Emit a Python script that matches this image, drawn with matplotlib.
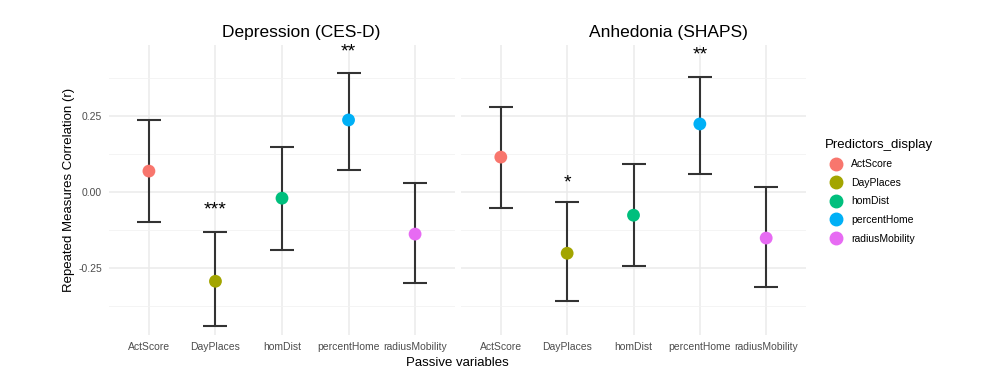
import matplotlib.pyplot as plt
from matplotlib.lines import Line2D
import numpy as np

plt.rcParams["font.family"] = ["Liberation Sans", "DejaVu Sans"]

predictors = ["ActScore", "DayPlaces", "homDist", "percentHome", "radiusMobility"]
colors = ["#F8766D", "#A3A500", "#00BF7D", "#00B0F6", "#E76BF3"]

panel_titles = ["Depression (CES-D)", "Anhedonia (SHAPS)"]

# correlation estimates and CI bounds, per panel
dep_r = [0.069, -0.293, -0.020, 0.237, -0.138]
dep_lo = [-0.099, -0.441, -0.191, 0.072, -0.299]
dep_hi = [0.237, -0.132, 0.148, 0.391, 0.030]
dep_stars = ["", "***", "", "**", ""]
dep_star_y = [None, -0.058, None, 0.462, None]

anh_r = [0.115, -0.201, -0.076, 0.224, -0.151]
anh_lo = [-0.053, -0.359, -0.243, 0.059, -0.313]
anh_hi = [0.280, -0.033, 0.092, 0.378, 0.016]
anh_stars = ["", "*", "", "**", ""]
anh_star_y = [None, 0.030, None, 0.452, None]

panels = [
    (dep_r, dep_lo, dep_hi, dep_stars, dep_star_y),
    (anh_r, anh_lo, anh_hi, anh_stars, anh_star_y),
]

fig = plt.figure(figsize=(10, 3.83), dpi=100)
ax_rects = [[0.109, 0.125, 0.346, 0.758], [0.461, 0.125, 0.345, 0.758]]
title_x = [0.301, 0.668]

x = np.arange(len(predictors))
for i, (r, lo, hi, stars, star_y) in enumerate(panels):
    ax = fig.add_axes(ax_rects[i])
    r = np.array(r)
    yerr = [r - np.array(lo), np.array(hi) - r]
    ax.errorbar(x, r, yerr=yerr, fmt="none", ecolor="#333333", elinewidth=1.5,
                capsize=8.5, capthick=1.5, zorder=2)
    ax.scatter(x, r, s=85, c=colors, zorder=3, edgecolors="none")
    for xi, s, sy in zip(x, stars, star_y):
        if s:
            ax.text(xi, sy, s, ha="center", va="center", fontsize=14, color="black")

    ax.set_xlim(-0.6, 4.6)
    ax.set_ylim(-0.47, 0.484)
    ax.set_xticks(x)
    ax.set_xticklabels(predictors, fontsize=7.5, color="#4D4D4D")
    ax.set_yticks([-0.25, 0, 0.25])
    ax.set_yticks([-0.375, -0.125, 0.125, 0.375], minor=True)
    if i == 0:
        ax.set_yticklabels(["-0.25", "0.00", "0.25"], fontsize=7.5, color="#4D4D4D")
        ax.set_ylabel("Repeated Measures Correlation (r)", fontsize=9.5, color="black")
        ax.yaxis.set_label_coords(-0.097, 0.5)
    else:
        ax.set_yticklabels([])
    ax.tick_params(axis="both", which="both", length=0, pad=5)
    ax.grid(True, which="major", color="#EBEBEB", linewidth=1.1)
    ax.grid(True, which="minor", axis="y", color="#F2F2F2", linewidth=0.6)
    ax.set_axisbelow(True)
    for sp in ax.spines.values():
        sp.set_visible(False)
    fig.text(title_x[i], 0.915, panel_titles[i], ha="center", va="center", fontsize=12.5)

fig.text(0.457, 0.053, "Passive variables", ha="center", va="center", fontsize=9.5)

handles = [Line2D([], [], marker="o", linestyle="", markersize=9, color=c) for c in colors]
fig.legend(handles, predictors, title="Predictors_display", loc="upper left",
           bbox_to_anchor=(0.816, 0.662), frameon=False, fontsize=7.5,
           title_fontsize=9.5, handletextpad=0.5, labelspacing=0.82,
           alignment="left")

fig.savefig("out.png", dpi=100, facecolor="white")
